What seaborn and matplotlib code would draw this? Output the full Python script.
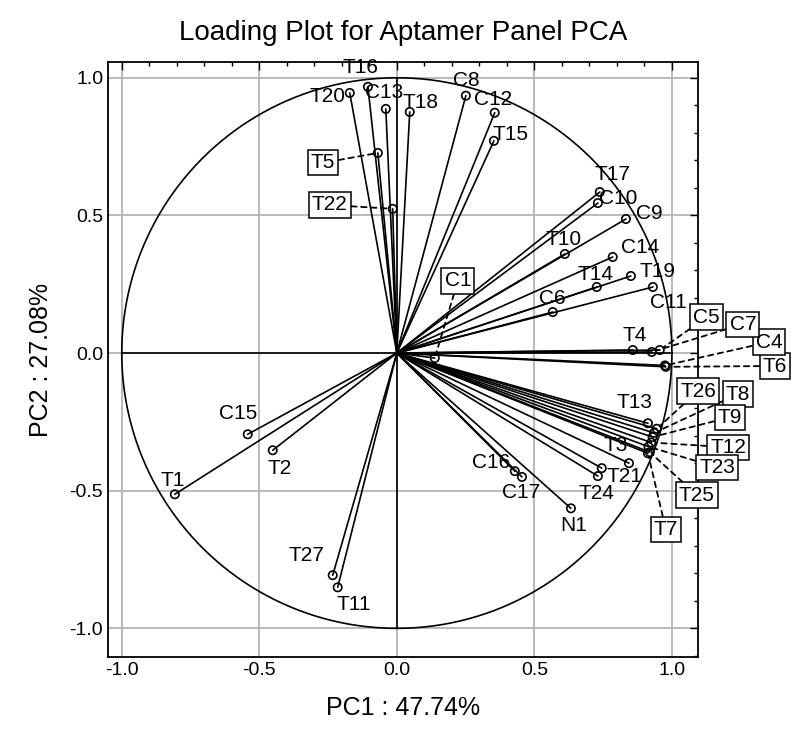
import numpy as np
import pandas as pd
import matplotlib.pyplot as plt
import seaborn as sns
from matplotlib.ticker import MultipleLocator

# loadings
names = ['T1', 'T2', 'T3', 'T4', 'T5', 'T6', 'T7', 'T8', 'T9', 'T10',
         'T11', 'T12', 'T13', 'T14', 'T15', 'T16', 'T17', 'T18', 'T19', 'T20',
         'T21', 'T22', 'T23', 'T24', 'T25', 'T26', 'T27',
         'C1', 'C4', 'C5', 'C6', 'C7', 'C8', 'C9', 'C10', 'C11', 'C12',
         'C13', 'C14', 'C15', 'C16', 'C17', 'N1']
pc1 = [-0.807, -0.451, 0.844, 0.858, -0.069, 0.978, 0.913, 0.935, 0.930, 0.611,
       -0.215, 0.925, 0.913, 0.727, 0.353, -0.105, 0.738, 0.047, 0.851, -0.171,
       0.745, -0.015, 0.915, 0.731, 0.920, 0.945, -0.233,
       0.138, 0.975, 0.956, 0.567, 0.927, 0.251, 0.833, 0.731, 0.931, 0.356,
       -0.040, 0.785, -0.542, 0.429, 0.455, 0.633]
pc2 = [-0.513, -0.353, -0.400, 0.011, 0.727, -0.050, -0.364, -0.290, -0.305, 0.360,
       -0.851, -0.325, -0.255, 0.240, 0.771, 0.967, 0.585, 0.876, 0.280, 0.945,
       -0.418, 0.524, -0.340, -0.447, -0.360, -0.275, -0.807,
       -0.018, -0.045, 0.011, 0.149, 0.004, 0.935, 0.487, 0.545, 0.240, 0.873,
       0.887, 0.349, -0.295, -0.429, -0.450, -0.564]

# where each name is written (boxed names get a dashed leader)
label_pos = {
    'T1': (-0.815, -0.462), 'T2': (-0.425, -0.418), 'T3': (0.796, -0.335),
    'T4': (0.865, 0.065), 'T10': (0.607, 0.411), 'T11': (-0.156, -0.913),
    'T13': (0.865, -0.178), 'T14': (0.724, 0.287), 'T15': (0.415, 0.793),
    'T16': (-0.131, 1.036), 'T17': (0.785, 0.647), 'T18': (0.087, 0.909),
    'T19': (0.949, 0.295), 'T20': (-0.251, 0.931), 'T21': (0.829, -0.447),
    'T24': (0.724, -0.509), 'T27': (-0.327, -0.735),
    'C6': (0.564, 0.200), 'C8': (0.251, 0.989), 'C9': (0.918, 0.508),
    'C10': (0.805, 0.560), 'C11': (0.989, 0.182), 'C12': (0.349, 0.920),
    'C13': (-0.047, 0.945), 'C14': (0.884, 0.385), 'C15': (-0.578, -0.218),
    'C16': (0.342, -0.396), 'C17': (0.451, -0.505), 'N1': (0.644, -0.625),
}
boxed_pos = {
    'T5': (-0.269, 0.691), 'T22': (-0.244, 0.538), 'C1': (0.222, 0.262),
    'C5': (1.127, 0.131), 'C7': (1.258, 0.105), 'C4': (1.353, 0.040),
    'T6': (1.375, -0.047), 'T26': (1.095, -0.138), 'T8': (1.240, -0.149),
    'T9': (1.211, -0.233), 'T12': (1.204, -0.342), 'T23': (1.164, -0.415),
    'T25': (1.091, -0.516), 'T7': (0.978, -0.640),
}

df = pd.DataFrame({'name': names, 'PC1': pc1, 'PC2': pc2})

sns.set_style('white')
plt.rcParams['font.family'] = ['Liberation Sans', 'DejaVu Sans']
plt.rcParams['text.color'] = 'black'
plt.rcParams['axes.labelcolor'] = 'black'
plt.rcParams['xtick.color'] = 'black'
plt.rcParams['ytick.color'] = 'black'

fig = plt.figure(figsize=(8, 7.36), dpi=100)
ax = fig.add_axes([0.135, 0.107, 0.7375, 0.809])

# grid
for v in [-1.0, -0.5, 0.0, 0.5, 1.0]:
    ax.axvline(v, color='#b4b4b4', lw=1.3, zorder=0)
    ax.axhline(v, color='#b4b4b4', lw=1.3, zorder=0)

# unit circle and cross
t = np.linspace(0, 2 * np.pi, 400)
ax.plot(np.cos(t), np.sin(t), color='black', lw=1.2, zorder=1)
ax.plot([-1, 1], [0, 0], color='black', lw=1.2, zorder=1)
ax.plot([0, 0], [-1, 1], color='black', lw=1.2, zorder=1)

# vectors from origin
for _, r in df.iterrows():
    ax.plot([0, r.PC1], [0, r.PC2], color='black', lw=1.2, zorder=2)

sns.scatterplot(data=df, x='PC1', y='PC2', ax=ax, marker='o', s=36,
                facecolor='none', edgecolor='black', linewidth=1.2, zorder=3)

for _, r in df.iterrows():
    if r['name'] in label_pos:
        lx, ly = label_pos[r['name']]
        ax.text(lx, ly, r['name'], ha='center', va='center', fontsize=15,
                zorder=4)
    else:
        lx, ly = boxed_pos[r['name']]
        ax.annotate(r['name'], xy=(r.PC1, r.PC2), xytext=(lx, ly),
                    ha='center', va='center', fontsize=15, zorder=4,
                    annotation_clip=False,
                    bbox=dict(boxstyle='square,pad=0.15', fc='white',
                              ec='black', lw=1.1),
                    arrowprops=dict(arrowstyle='-', ls=(0, (3, 2.5)),
                                    color='black', lw=1.3,
                                    shrinkA=0, shrinkB=3))

ax.set_xlim(-1.05, 1.095)
ax.set_ylim(-1.105, 1.058)
ax.xaxis.set_major_locator(MultipleLocator(0.5))
ax.yaxis.set_major_locator(MultipleLocator(0.5))
ax.xaxis.set_minor_locator(MultipleLocator(0.1))
ax.yaxis.set_minor_locator(MultipleLocator(0.1))
ax.xaxis.set_major_formatter(plt.FormatStrFormatter('%.1f'))
ax.yaxis.set_major_formatter(plt.FormatStrFormatter('%.1f'))
ax.tick_params(which='both', direction='in', top=True, right=True,
               labelsize=14, color='black')
ax.tick_params(which='major', length=6, width=1)
ax.tick_params(which='minor', length=3, width=1)
for s in ax.spines.values():
    s.set_color('black')
    s.set_linewidth(1.3)

ax.set_xlabel('PC1 : 47.74%', fontsize=18, labelpad=12)
ax.set_ylabel('PC2 : 27.08%', fontsize=18, labelpad=12)
ax.set_title('Loading Plot for Aptamer Panel PCA', fontsize=20, pad=16)

fig.savefig('out.png', dpi=100)
